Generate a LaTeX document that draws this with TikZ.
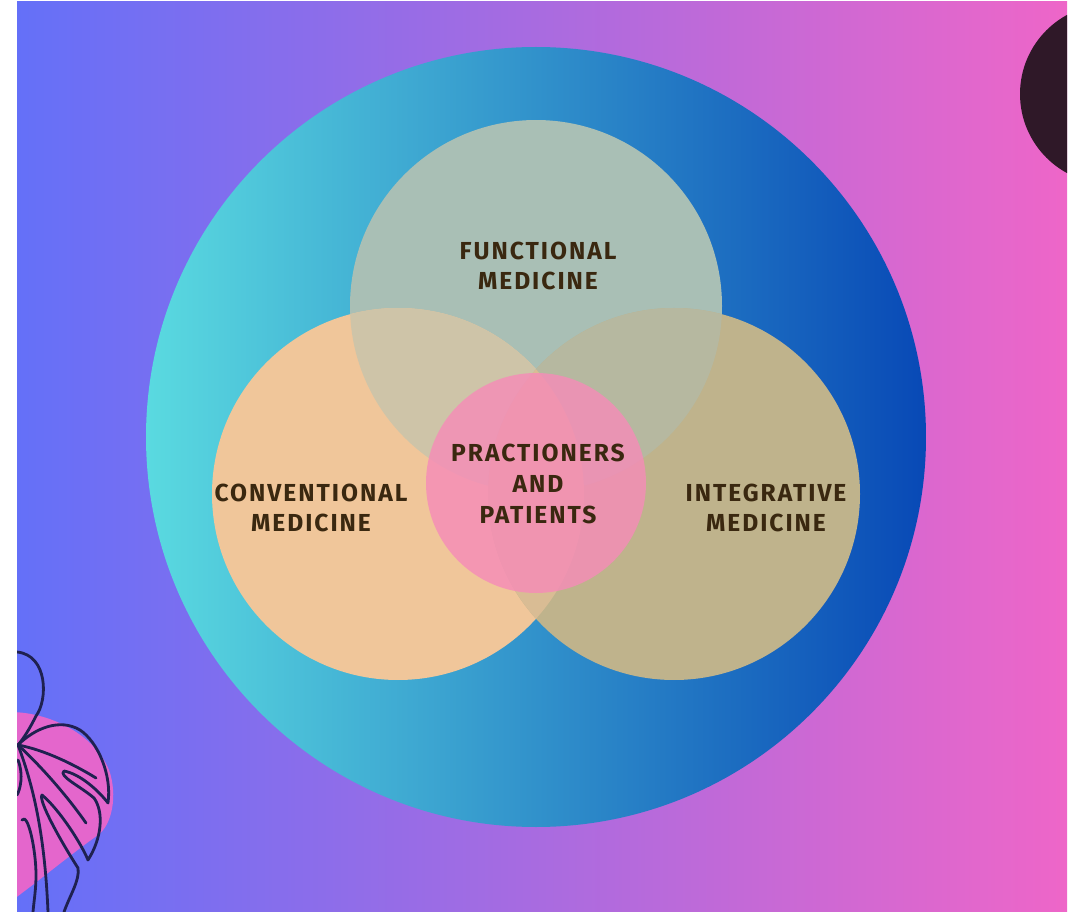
\documentclass[tikz,border=0pt]{standalone}
\usepackage{fontspec}
\setmainfont{Fira Sans}
\newfontfamily\labelfont[LetterSpace=8.0]{Fira Sans}
\usepackage{tikz}
\usetikzlibrary{calc}

\definecolor{bgleft}{HTML}{6470F8}
\definecolor{bgright}{HTML}{EE66C8}
\definecolor{ringleft}{HTML}{5ADAE0}
\definecolor{ringright}{HTML}{0849B6}
\definecolor{topc}{HTML}{A9BFB5}
\definecolor{leftc}{HTML}{F0C69A}
\definecolor{rightc}{HTML}{BFB38C}
\definecolor{topleftc}{HTML}{CEC4A8}
\definecolor{toprightc}{HTML}{B6B8A0}
\definecolor{leftrightc}{HTML}{D9BC94}
\definecolor{pinkc}{HTML}{F68BB8}
\definecolor{textc}{HTML}{3A2810}
\definecolor{blobc}{HTML}{2F1828}
\definecolor{leafpink}{HTML}{E466CC}
\definecolor{leafline}{HTML}{1F2150}

\tikzset{
    label text/.style={text=textc, font=\labelfont\fontsize{14}{17.6}\selectfont\bfseries, align=center},
    leaf line/.style={draw=leafline, line width=1.6, line cap=round, line join=round}
}

\begin{document}
\begin{tikzpicture}[x=0.02cm, y=-0.02cm]
\useasboundingbox (0,0) rectangle (1079,912);

%background
\shade[left color=bgleft, right color=bgright] (17,2) rectangle (1067,912);
\begin{scope}
    \clip (17,2) rectangle (1067,912);
    % dark blob, top right
    \fill[blobc] (1110,94) circle (90);
    % pink blob, bottom left
    \fill[leafpink] (10,712) .. controls (50,712) and (95,735) .. (109,770)
        .. controls (118,795) and (112,825) .. (98,835)
        .. controls (70,855) and (40,880) .. (10,902) -- cycle;
    % leaf
    \draw[leaf line] (17,652) .. controls (48,655) and (48,700) .. (36,716)
        .. controls (30,728) and (24,738) .. (18,745);
    \draw[leaf line] (18,745) .. controls (35,728) and (60,718) .. (80,730)
        .. controls (98,742) and (112,775) .. (108,803)
        .. controls (98,790) and (80,774) .. (64,771)
        .. controls (58,776) and (80,786) .. (94,798)
        .. controls (104,812) and (102,838) .. (88,860)
        .. controls (82,845) and (60,810) .. (42,795)
        .. controls (38,800) and (60,840) .. (78,868)
        .. controls (80,880) and (70,895) .. (64,912);
    \draw[leaf line] (18,745) .. controls (45,750) and (75,765) .. (96,778);
    \draw[leaf line] (18,745) .. controls (45,770) and (70,800) .. (86,823);
    \draw[leaf line] (18,745) .. controls (35,790) and (45,840) .. (48,912);
    \draw[leaf line] (22,820) .. controls (28,812) and (36,850) .. (36,875)
        .. controls (36,890) and (34,900) .. (33,912);
    \draw[leaf line] (18,760) .. controls (24,775) and (20,790) .. (17,795);
\end{scope}

%outer ring
\shade[left color=ringleft, right color=ringright] (536,437) circle (390);

%three circles
\fill[topc] (536,306) circle (186);
\fill[leftc] (398,494) circle (186);
\fill[rightc] (674,494) circle (186);

%overlaps
\begin{scope}
    \clip (536,306) circle (186);
    \fill[topleftc] (398,494) circle (186);
    \fill[toprightc] (674,494) circle (186);
\end{scope}
\begin{scope}
    \clip (398,494) circle (186);
    \fill[leftrightc] (674,494) circle (186);
\end{scope}

%center circle
\fill[pinkc, fill opacity=0.8] (536,483) circle (110);

%labels
\node[label text] (functional) at (538,266) {FUNCTIONAL\\MEDICINE};
\node[label text] (conventional) at (311,508) {CONVENTIONAL\\MEDICINE};
\node[label text] (integrative) at (766,508) {INTEGRATIVE\\MEDICINE};
\node[label text] (practioners) at (538,484) {PRACTIONERS\\AND\\PATIENTS};

\end{tikzpicture}
\end{document}
